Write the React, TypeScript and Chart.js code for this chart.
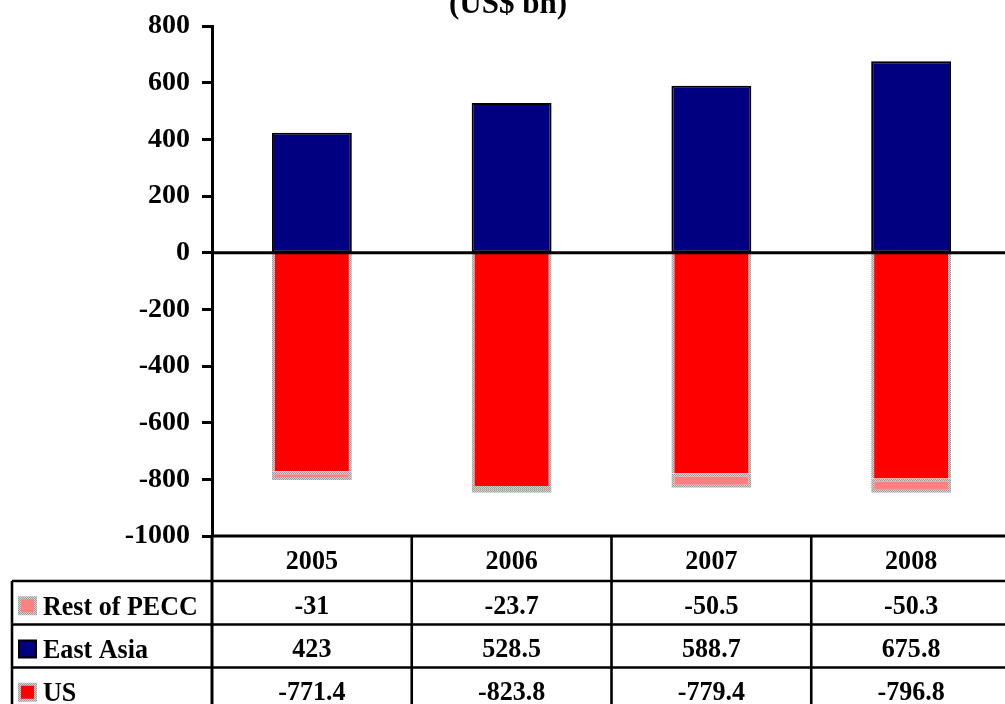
import React, { useEffect, useRef } from "react";
import { Chart, registerables } from "chart.js";

Chart.register(...registerables);

// ---- data ----
const years = ["2005", "2006", "2007", "2008"];
const restOfPecc = [-31, -23.7, -50.5, -50.3];
const eastAsia = [423, 528.5, 588.7, 675.8];
const us = [-771.4, -823.8, -779.4, -796.8];
const yMin = -1000;
const yMax = 800;
const yStep = 200;
const titleText = "(US$ bn)";

const tableRows = [
  { label: "Rest of PECC", values: restOfPecc, key: "pecc" },
  { label: "East Asia", values: eastAsia, key: "ea" },
  { label: "US", values: us, key: "us" },
];

const FONT = "'Liberation Serif', 'Times New Roman', serif";
const W = 1011;
const H = 704;

function makeGrayPattern(ctx: CanvasRenderingContext2D): CanvasPattern | string {
  const c = document.createElement("canvas");
  c.width = 2;
  c.height = 2;
  const g = c.getContext("2d");
  if (!g) return "#b0b0b0";
  g.fillStyle = "#d4d4d4";
  g.fillRect(0, 0, 2, 2);
  g.fillStyle = "#9a9a9a";
  g.fillRect(0, 0, 1, 1);
  g.fillRect(1, 1, 1, 1);
  return ctx.createPattern(c, "repeat") || "#b0b0b0";
}

export default function App() {
  const ref = useRef<HTMLCanvasElement | null>(null);

  useEffect(() => {
    const canvas = ref.current;
    if (!canvas) return;
    const ctx0 = canvas.getContext("2d")!;
    const gray = makeGrayPattern(ctx0);

    const tablePlugin = {
      id: "tablePlugin",
      afterDraw(chart: any) {
        const ctx: CanvasRenderingContext2D = chart.ctx;
        const ca = chart.chartArea;
        const xs = chart.scales.x;
        const ys = chart.scales.y;
        ctx.save();

        // zero line
        const y0 = ys.getPixelForValue(0);
        ctx.strokeStyle = "#000";
        ctx.lineWidth = 3;
        ctx.beginPath();
        ctx.moveTo(ca.left, y0);
        ctx.lineTo(W, y0);
        ctx.stroke();

        // title
        ctx.fillStyle = "#000";
        ctx.font = `bold 31px ${FONT}`;
        ctx.textAlign = "center";
        ctx.textBaseline = "alphabetic";
        ctx.fillText(titleText, 508, 13);

        // table grid
        const top = ca.bottom;
        const rowsY = [top, top + 45, top + 88.5, top + 131.5, top + 175];
        const colW = (ca.right - ca.left) / years.length;
        const legendLeft = 12;

        const line = (x1: number, y1: number, x2: number, y2: number) => {
          ctx.beginPath();
          ctx.moveTo(x1, y1);
          ctx.lineTo(x2, y2);
          ctx.stroke();
        };
        ctx.lineWidth = 3;
        line(ca.left, rowsY[0], W, rowsY[0]);
        ctx.lineWidth = 2.6;
        for (let r = 1; r < rowsY.length; r++) line(legendLeft, rowsY[r], W, rowsY[r]);
        line(legendLeft, rowsY[1], legendLeft, H);
        for (let i = 0; i <= years.length; i++) {
          const x = ca.left + i * colW;
          ctx.lineWidth = i === 0 ? 3 : 2.6;
          line(x, rowsY[0], x, H);
        }

        const sx = 0.93;
        const drawText = (t: string, x: number, y: number, align: "center" | "left") => {
          ctx.save();
          ctx.translate(x, y);
          ctx.scale(sx, 1);
          ctx.textAlign = align;
          ctx.textBaseline = "alphabetic";
          ctx.fillText(t, 0, 0);
          ctx.restore();
        };
        ctx.font = `bold 28px ${FONT}`;
        ctx.fillStyle = "#000";
        // header
        years.forEach((yr, i) => {
          const cx = xs.getPixelForValue(i);
          const cy = (rowsY[0] + rowsY[1]) / 2;
          drawText(yr, cx, cy + 10, "center");
        });
        tableRows.forEach((row, r) => {
          const cy = (rowsY[r + 1] + rowsY[r + 2]) / 2;
          row.values.forEach((v, i) => {
            const cx = xs.getPixelForValue(i);
            drawText(String(v), cx, cy + 11, "center");
          });
          // legend swatch
          const sz = 19;
          const sxp = 18;
          const syp = cy + 3 - sz / 2;
          if (row.key === "ea") {
            ctx.fillStyle = "#000";
            ctx.fillRect(sxp, syp, sz, sz);
            ctx.fillStyle = "#000080";
            ctx.fillRect(sxp + 2, syp + 2, sz - 4, sz - 4);
          } else {
            ctx.fillStyle = gray as any;
            ctx.fillRect(sxp, syp, sz, sz);
            ctx.fillStyle = row.key === "us" ? "#FF0000" : "#FF8080";
            ctx.fillRect(sxp + 3, syp + 3, sz - 6, sz - 6);
          }
          ctx.fillStyle = "#000";
          drawText(row.label, 43, cy + 12, "left");
        });

        ctx.restore();
      },
    };

    const chart = new Chart(canvas, {
      type: "bar",
      data: {
        labels: years,
        datasets: [
          {
            label: "US",
            data: us,
            backgroundColor: "#FF0000",
            borderColor: gray as any,
            borderWidth: { top: 0, left: 3, right: 3, bottom: 0 } as any,
            borderSkipped: false,
          },
          {
            label: "Rest of PECC",
            data: restOfPecc,
            backgroundColor: "#FF8080",
            borderColor: gray as any,
            borderWidth: 3,
            borderSkipped: false,
          },
          {
            label: "East Asia",
            data: eastAsia,
            backgroundColor: "#000080",
            borderColor: "#000000",
            borderWidth: 2,
            borderSkipped: false,
          },
        ],
      },
      options: {
        responsive: false,
        animation: false,
        devicePixelRatio: 1,
        layout: { padding: { left: 0, top: 16, right: 0, bottom: H - 536 } },
        datasets: { bar: { categoryPercentage: 1, barPercentage: 0.4 } },
        plugins: {
          legend: { display: false },
          title: { display: false },
          tooltip: { enabled: false },
        },
        scales: {
          x: {
            stacked: true,
            display: false,
            offset: true,
          },
          y: {
            stacked: true,
            min: yMin,
            max: yMax,
            ticks: {
              stepSize: yStep,
              color: "#000",
              padding: 12,
              font: { family: FONT, size: 28, weight: "bold", lineHeight: 1 },
              callback: (v: any) => String(v),
            },
            grid: {
              drawOnChartArea: false,
              drawTicks: true,
              tickLength: 10,
              tickColor: "#000",
              tickWidth: 3,
            },
            border: { display: true, color: "#000", width: 3 },
            afterFit: (s: any) => {
              s.width = 212;
            },
          },
        },
      } as any,
      plugins: [tablePlugin],
    });

    return () => chart.destroy();
  }, []);

  return (
    <div
      style={{
        position: "absolute",
        left: 0,
        top: 0,
        width: 1005,
        height: 704,
        overflow: "hidden",
        background: "#fff",
      }}
    >
      <canvas ref={ref} width={W} height={H} style={{ display: "block" }} />
    </div>
  );
}
